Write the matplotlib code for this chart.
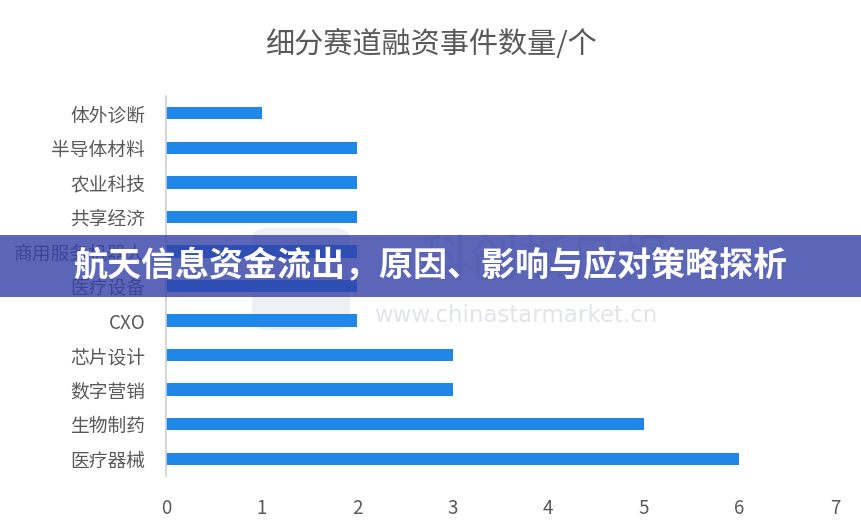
import matplotlib
matplotlib.use("Agg")
import matplotlib.pyplot as plt
from matplotlib.patches import Rectangle, FancyBboxPatch

plt.rcParams['font.family'] = ['Noto Sans CJK SC', 'DejaVu Sans']

categories = ['体外诊断', '半导体材料', '农业科技', '共享经济', '商用服务机器人',
              '医疗设备', 'CXO', '芯片设计', '数字营销', '生物制药', '医疗器械']
counts = [1, 2, 2, 2, 2, 2, 2, 3, 3, 5, 6]
xticks = [0, 1, 2, 3, 4, 5, 6, 7]

title = '细分赛道融资事件数量/个'
banner = '航天信息资金流出，原因、影响与应对策略探析'

fig = plt.figure(figsize=(8.62, 5.32), dpi=100)
ax = fig.add_axes([166 / 862, 1 - 476 / 532, (835 - 166) / 862, (476 - 96) / 532])
ax.set_zorder(1)
ax.patch.set_visible(False)

ypos = list(range(len(categories)))
ax.barh(ypos, counts, height=0.36, color='#1f87e8', zorder=2)
ax.set_ylim(len(categories) - 0.5, -0.5)
ax.set_xlim(0, 7)
ax.set_xticks(xticks)
ax.set_yticks(ypos)
ax.set_yticklabels(categories)
for s in ['top', 'right', 'bottom']:
    ax.spines[s].set_visible(False)
ax.spines['left'].set_color('#d0d0d0')
ax.spines['left'].set_linewidth(1.2)
ax.tick_params(axis='both', length=0, colors='#595959', labelsize=13.5)
ax.tick_params(axis='y', pad=15)
ax.tick_params(axis='x', pad=16)

fig.text(0.5, 1 - 45 / 532, title, ha='center', va='center', fontsize=21, color='#595959')

# faint watermark behind the chart
fig.patches.append(FancyBboxPatch((252 / 862, 1 - 330 / 532), 98 / 862, 102 / 532,
                                  boxstyle='round,pad=0,rounding_size=0.02',
                                  transform=fig.transFigure, facecolor='#eef0f3',
                                  edgecolor='none', zorder=0.5))
fig.text(545 / 862, 1 - 262 / 532, '科创板日报', ha='center', va='center', fontsize=36,
         color='#e3e5ea', zorder=0.5)
fig.text(516 / 862, 1 - 315 / 532, 'www.chinastarmarket.cn', ha='center', va='center',
         fontsize=16.5, color='#e2e4ea', zorder=0.5, family='DejaVu Sans')

# banner overlay
fig.patches.append(Rectangle((0, 1 - 297 / 532), 1, 62 / 532, transform=fig.transFigure,
                             facecolor=(0.2, 0.25, 0.65), alpha=0.8, edgecolor='none', zorder=5))
fig.text(0.499, 1 - 266 / 532, banner, ha='center', va='center', fontsize=24.5,
         color='white', fontweight=900, zorder=6)

fig.savefig('out.png', dpi=100)
